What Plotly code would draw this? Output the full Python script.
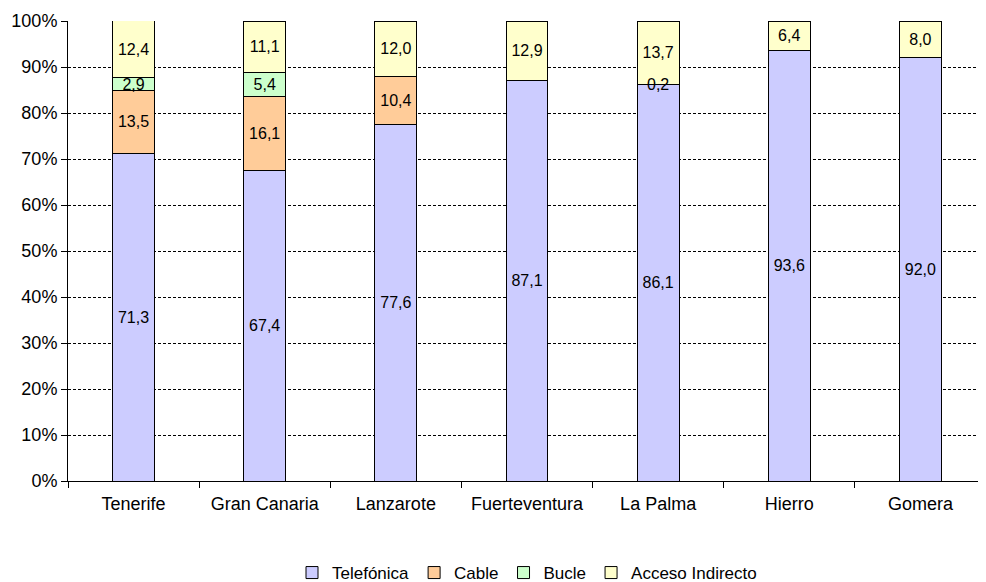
import plotly.graph_objects as go

islands = ["Tenerife", "Gran Canaria", "Lanzarote", "Fuerteventura", "La Palma", "Hierro", "Gomera"]
telefonica = [71.3, 67.4, 77.6, 87.1, 86.1, 93.6, 92.0]
cable = [13.5, 16.1, 10.4, 0.0, 0.0, 0.0, 0.0]
bucle = [2.9, 5.4, 0.0, 0.0, 0.2, 0.0, 0.0]
acceso = [12.4, 11.1, 12.0, 12.9, 13.7, 6.4, 8.0]

series = [
    ("Telefónica", telefonica, "#CCCCFF"),
    ("Cable", cable, "#FFCC99"),
    ("Bucle", bucle, "#CCFFCC"),
    ("Acceso Indirecto", acceso, "#FFFFCC"),
]

def fmt(v):
    return f"{v:.1f}".replace(".", ",")

SMALL = 1.0
fig = go.Figure()
base = [0.0] * len(islands)
annotations = []
for name, vals, color in series:
    texts = []
    for i, v in enumerate(vals):
        if v >= SMALL:
            texts.append(fmt(v))
        else:
            texts.append("")
            if v > 0:
                annotations.append(dict(
                    x=islands[i], y=base[i] + v / 2, text=fmt(v), showarrow=False,
                    font=dict(family="Liberation Sans, Arial", size=16, color="black"),
                    xref="x", yref="y", yanchor="middle",
                ))
    fig.add_trace(go.Bar(
        x=islands, y=vals, name=name,
        marker=dict(color=color, line=dict(color="black", width=1)),
        text=texts,
        textposition="inside", insidetextanchor="middle", textangle=0,
        textfont=dict(family="Liberation Sans, Arial", size=16, color="black"),
        width=0.32,
    ))
    base = [b + v for b, v in zip(base, vals)]

fig.update_layout(
    barmode="stack",
    width=986, height=582,
    margin=dict(l=60, r=8, t=13, b=109, autoexpand=False),
    plot_bgcolor="white", paper_bgcolor="white",
    font=dict(family="Liberation Sans, Arial", size=18, color="black"),
    uniformtext=dict(minsize=16, mode="show"),
    legend=dict(orientation="h", x=0.5, xanchor="center", y=-0.2, yanchor="middle",
                font=dict(size=17), itemwidth=30, traceorder="normal"),
    showlegend=True,
    annotations=annotations,
)
fig.update_xaxes(
    type="category", tickson="boundaries", ticks="outside", ticklen=6, tickcolor="black",
    showline=True, linecolor="black", linewidth=1, showgrid=False,
    tickfont=dict(size=18), ticklabelstandoff=6,
)
fig.update_yaxes(
    range=[0, 100], dtick=10, ticksuffix="%", ticks="outside", ticklen=6, tickcolor="black",
    showline=True, linecolor="black", linewidth=1,
    showgrid=True, gridcolor="black", gridwidth=1, griddash="3px,2px",
    tickfont=dict(size=18), zeroline=False,
)
fig.write_html("out.html")
